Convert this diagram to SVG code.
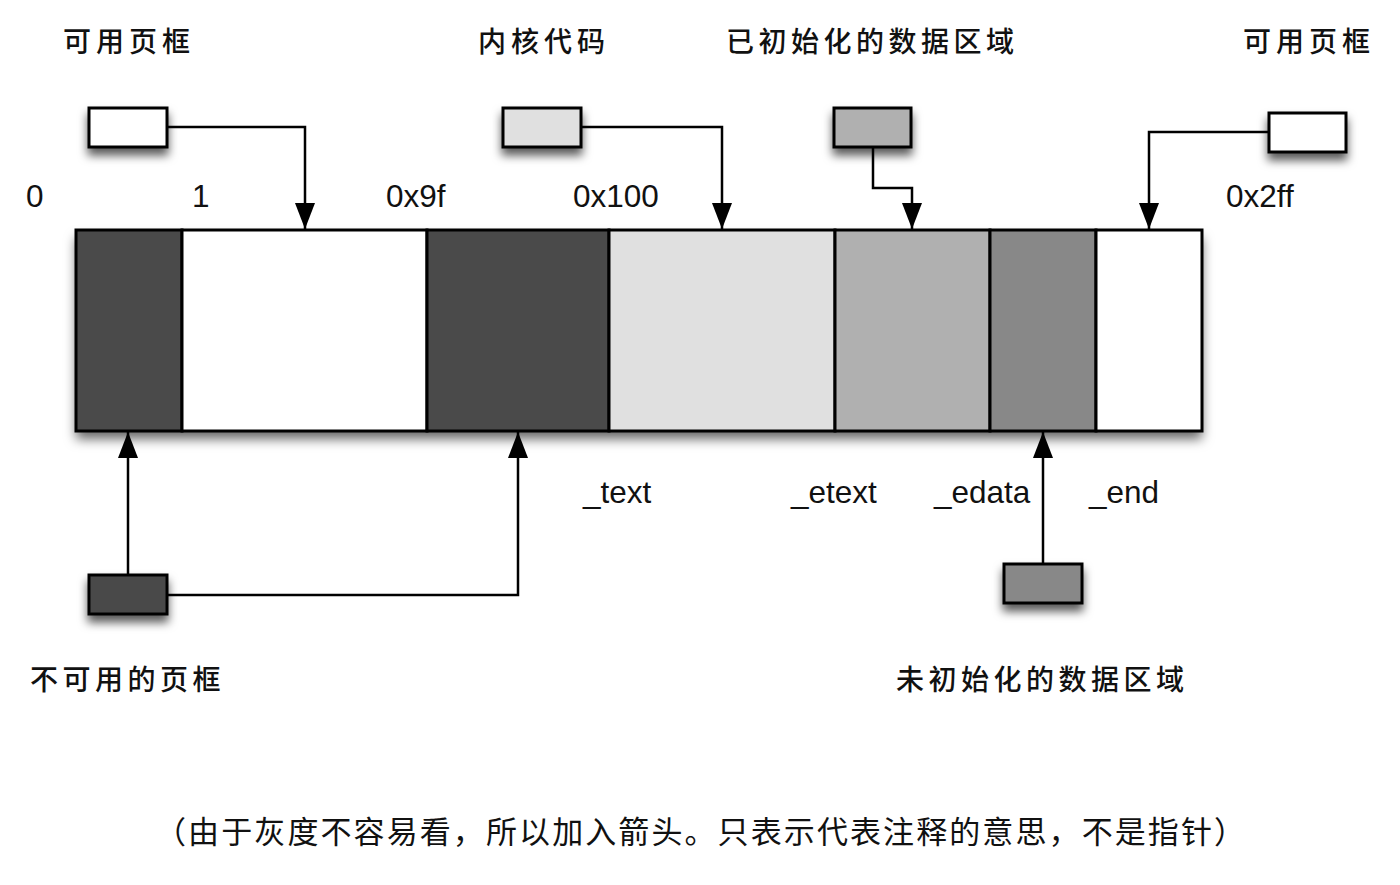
<svg xmlns="http://www.w3.org/2000/svg" width="1400" height="885" viewBox="0 0 1400 885">
  <style>
    .box { stroke: #000; stroke-width: 3; }
    .seg { stroke: #000; stroke-width: 3; }
    .conn { fill: none; stroke: #000; stroke-width: 2.5; }
    .cjk { font-family: "Noto Sans CJK SC", "Noto Sans", sans-serif; font-size: 28px; font-weight: 500; letter-spacing: 5px; fill: #111; }
    .num { font-family: "Liberation Sans", Arial, sans-serif; font-size: 31.5px; fill: #111; }
    .cap { font-family: "Noto Sans CJK SC", "Noto Sans", sans-serif; font-size: 31px; font-weight: normal; fill: #111; }
  </style>
  <defs>
    <filter id="sh" x="-20%" y="-20%" width="140%" height="170%">
      <feDropShadow dx="0" dy="7" stdDeviation="5" flood-color="#000" flood-opacity="0.65"/>
    </filter>
    <filter id="shbar" x="-5%" y="-10%" width="110%" height="130%">
      <feDropShadow dx="0" dy="8" stdDeviation="6" flood-color="#000" flood-opacity="0.6"/>
    </filter>
    <marker id="arr" markerUnits="userSpaceOnUse" markerWidth="26" markerHeight="20" refX="26" refY="10" orient="auto" viewBox="0 0 26 20">
      <path d="M0,0 L26,10 L0,20 Z" fill="#000"/>
    </marker>
  </defs>
  <rect width="1400" height="885" fill="#fff"/>

  <!-- Memory bar -->
  <g id="memory-bar">
    <rect x="76" y="230" width="1126" height="201" fill="#fff" filter="url(#shbar)"/>
    <rect class="seg" x="76" y="230" width="106" height="201" fill="#4a4a4a"/>
    <rect class="seg" x="182" y="230" width="245" height="201" fill="#ffffff"/>
    <rect class="seg" x="427" y="230" width="182" height="201" fill="#4a4a4a"/>
    <rect class="seg" x="609" y="230" width="226" height="201" fill="#e0e0e0"/>
    <rect class="seg" x="835" y="230" width="155" height="201" fill="#b0b0b0"/>
    <rect class="seg" x="990" y="230" width="106" height="201" fill="#888888"/>
    <rect class="seg" x="1096" y="230" width="106" height="201" fill="#ffffff"/>
  </g>

  <!-- Connectors -->
  <g id="connectors">
    <path class="conn" d="M167,127 H305 V229" marker-end="url(#arr)"/>
    <path class="conn" d="M581,127 H722 V229" marker-end="url(#arr)"/>
    <path class="conn" d="M873,147 V188 H912 V229" marker-end="url(#arr)"/>
    <path class="conn" d="M1269,132 H1149 V229" marker-end="url(#arr)"/>
    <path class="conn" d="M128,575 V432" marker-end="url(#arr)"/>
    <path class="conn" d="M167,595 H518 V432" marker-end="url(#arr)"/>
    <path class="conn" d="M1043,564 V432" marker-end="url(#arr)"/>
  </g>

  <!-- Legend boxes -->
  <g id="box-free-left"><rect class="box" x="89" y="108" width="78" height="39" fill="#fff" filter="url(#sh)"/></g>
  <g id="box-kernel-code"><rect class="box" x="503" y="108" width="78" height="39" fill="#e0e0e0" filter="url(#sh)"/></g>
  <g id="box-init-data"><rect class="box" x="834" y="108" width="77" height="39" fill="#b0b0b0" filter="url(#sh)"/></g>
  <g id="box-free-right"><rect class="box" x="1269" y="113" width="77" height="39" fill="#fff" filter="url(#sh)"/></g>
  <g id="box-unusable"><rect class="box" x="89" y="575" width="78" height="39" fill="#4a4a4a" filter="url(#sh)"/></g>
  <g id="box-uninit-data"><rect class="box" x="1004" y="564" width="78" height="39" fill="#888888" filter="url(#sh)"/></g>

  <!-- Labels -->
  <g id="labels">
    <text class="cjk" x="63" y="52">可用页框</text>
    <text class="cjk" x="478" y="52">内核代码</text>
    <text class="cjk" x="726" y="52" style="letter-spacing:4.5px">已初始化的数据区域</text>
    <text class="cjk" x="1243" y="52">可用页框</text>
    <text class="cjk" x="30" y="690" style="letter-spacing:4.5px">不可用的页框</text>
    <text class="cjk" x="896" y="690" style="letter-spacing:4.5px">未初始化的数据区域</text>

    <text class="num" x="26" y="207">0</text>
    <text class="num" x="192" y="207">1</text>
    <text class="num" x="386" y="207">0x9f</text>
    <text class="num" x="573" y="207">0x100</text>
    <text class="num" x="1226" y="207">0x2ff</text>

    <text class="num" x="583" y="503">_text</text>
    <text class="num" x="791" y="503">_etext</text>
    <text class="num" x="934" y="503">_edata</text>
    <text class="num" x="1089" y="503">_end</text>

    <text class="cap" x="155" y="843" textLength="1090" lengthAdjust="spacing">（由于灰度不容易看，所以加入箭头。只表示代表注释的意思，不是指针）</text>
  </g>
</svg>
